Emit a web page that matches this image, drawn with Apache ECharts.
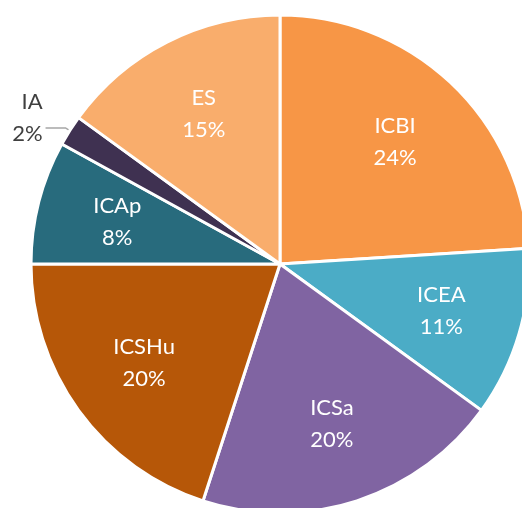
<!DOCTYPE html>
<html>
<head>
<meta charset="utf-8">
<script src="https://cdn.jsdelivr.net/npm/echarts@6/dist/echarts.min.js"></script>
<style>
html,body{margin:0;padding:0;background:#fff;}
#chart{width:522px;height:508px;}
</style>
</head>
<body>
<div id="chart"></div>
<script>
const categories = ['ICBI', 'ICEA', 'ICSa', 'ICSHu', 'ICAp', 'IA', 'ES'];
const values = [24, 11, 20, 20, 8, 2, 15];
const colors = ['#F79646', '#4BACC6', '#8064A2', '#B65708', '#286B7D', '#3F3151', '#F9AD6C'];
const outsideLabels = ['IA'];

const chart = echarts.init(document.getElementById('chart'), null, {renderer: 'canvas'});
const fmt = p => p.name + '\n' + p.value + '%';
const center = [280, 264];
const FONT = 'Lato';

const mainData = categories.map((c, i) => {
  const item = {name: c, value: values[i], itemStyle: {color: colors[i]}};
  if (outsideLabels.includes(c)) {
    item.label = {
      show: true, position: 'outside',
      formatter: p => p.name + '\n' + p.value + '%\n{s| }',
      color: '#404040', fontSize: 22, lineHeight: 32,
      fontFamily: FONT, align: 'center', distanceToLabelLine: 3,
      rich: {s: {fontSize: 2, lineHeight: 20}}
    };
    item.labelLine = {show: true, length: 5, length2: 20, lineStyle: {color: '#A6A6A6', width: 1.5}};
  }
  return item;
});

const labelData = categories.map((c, i) => ({
  name: c, value: values[i],
  label: {show: !outsideLabels.includes(c)}
}));

chart.setOption({
  animation: false,
  series: [
    {
      type: 'pie',
      center: center,
      radius: [0, 249],
      startAngle: 90,
      clockwise: true,
      avoidLabelOverlap: false,
      silent: true,
      itemStyle: {borderColor: '#ffffff', borderWidth: 3},
      label: {show: false},
      labelLine: {show: false},
      emphasis: {disabled: true},
      data: mainData
    },
    {
      type: 'pie',
      center: center,
      radius: [0, 330],
      startAngle: 90,
      clockwise: true,
      silent: true,
      avoidLabelOverlap: false,
      itemStyle: {color: 'rgba(0,0,0,0)', borderWidth: 0},
      label: {
        position: 'inside', formatter: fmt, color: '#ffffff',
        fontSize: 22, lineHeight: 32, fontFamily: FONT
      },
      labelLine: {show: false},
      emphasis: {disabled: true},
      data: labelData
    }
  ]
});
</script>
</body>
</html>
